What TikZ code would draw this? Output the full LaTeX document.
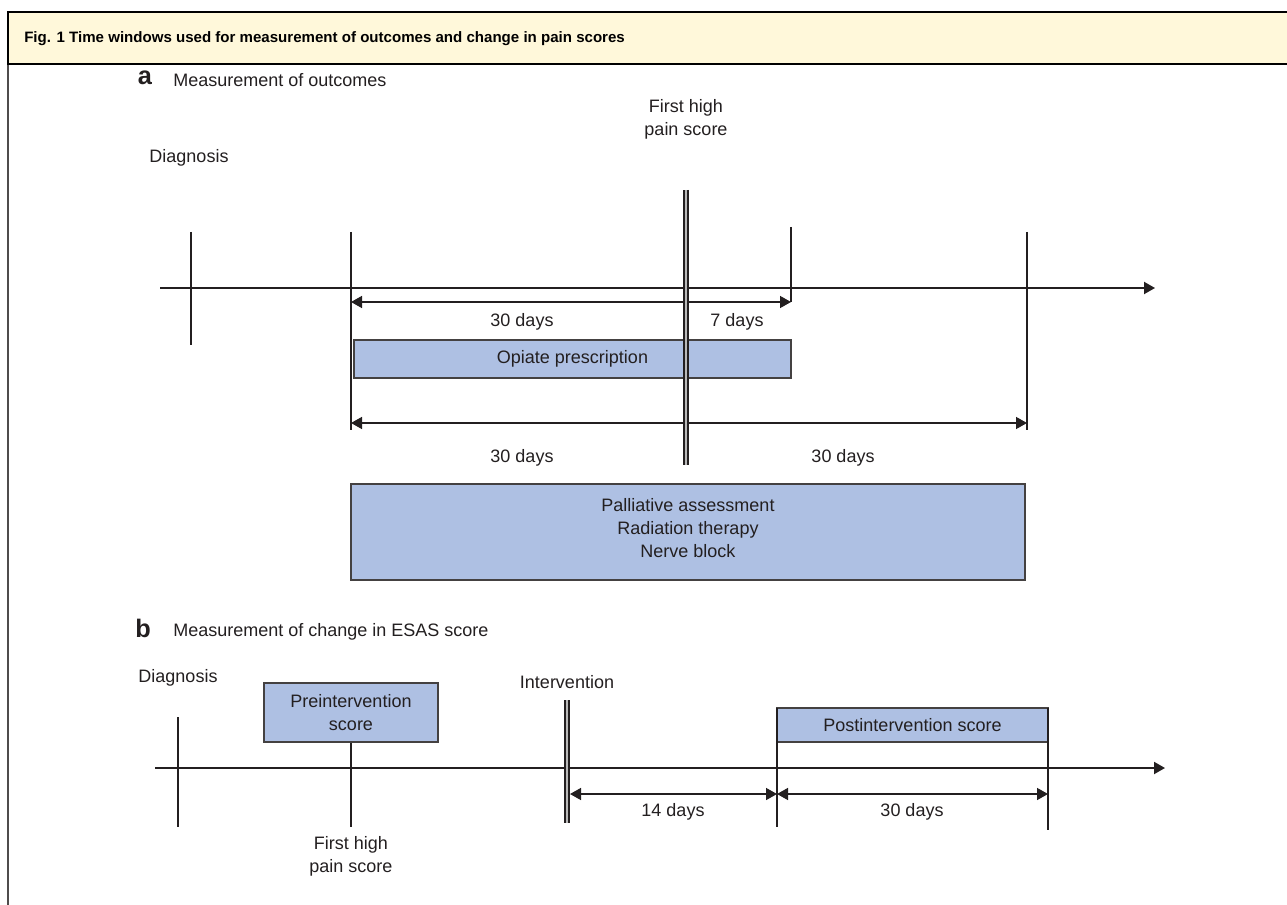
\documentclass[tikz,border=0pt]{standalone}
\usepackage{fontspec}
\setmainfont{Liberation Sans}
\usetikzlibrary{arrows.meta,fit}
\definecolor{boxblue}{HTML}{AEC0E3}
\definecolor{hdr}{HTML}{FFF8DA}
\definecolor{ink}{HTML}{231F20}
\begin{document}
\begin{tikzpicture}[x=0.75pt,y=-0.75pt,
  lbl/.style={font=\fontsize{13.5}{17.4}\selectfont, text=ink, inner sep=0pt, align=center},
  panel/.style={font=\bfseries\fontsize{19}{22}\selectfont, text=ink, inner sep=0pt},
  tickline/.style={draw=ink, line width=1pt},
  axisline/.style={draw=ink, line width=1.5pt, -{Triangle[length=8.25pt,width=9pt]}},
  dimline/.style={draw=ink, line width=1.1pt, {Triangle[length=8.25pt,width=9pt]}-{Triangle[length=8.25pt,width=9pt]}},
  bbox/.style={draw=ink!85, fill=boxblue, line width=1pt, inner sep=0pt},
  dbl/.style={draw=ink, line width=1pt, double=gray!55, double distance=1.8pt}
]
\useasboundingbox (0,0) rectangle (1287,905);
% frame and header
\draw[ink!80, line width=1.3pt] (8,12) -- (8,905);
\draw[fill=hdr, draw=black, line width=1.2pt] (8,12) rectangle (1300,64);
\node[font=\bfseries\fontsize{11.3}{14}\selectfont, text=black, anchor=west, inner sep=0pt] (title) at (24,39)
  {Fig. 1 Time windows used for measurement of outcomes and change in pain scores};

% ---------- panel a ----------
\node[panel] (pa) at (145,78) {a};
\node[lbl, anchor=west] (pat) at (173,80) {Measurement of outcomes};

\coordinate (ax0) at (160,288);
\coordinate (ax1) at (1155,288);
\draw[axisline] (ax0) -- (ax1);

\node[lbl] (diagA) at (189,158) {Diagnosis};
\coordinate (dA1) at (191,232); \coordinate (dA2) at (191,345);
\draw[tickline] (dA1) -- (dA2);

\coordinate (sA1) at (351,232); \coordinate (sA2) at (351,430);
\draw[tickline] (sA1) -- (sA2);

\node[lbl] (fhA) at (686,119) {First high\\pain score};
\coordinate (fA1) at (686,190); \coordinate (fA2) at (686,465);

\coordinate (sevA1) at (791,227); \coordinate (sevA2) at (791,302);
\draw[tickline] (sevA1) -- (sevA2);

\coordinate (eA1) at (1027,232); \coordinate (eA2) at (1027,430);
\draw[tickline] (eA1) -- (eA2);

\coordinate (r1a) at (351,302); \coordinate (r1b) at (791,302);
\draw[dimline] (r1a) -- (r1b);
\node[lbl] (d30a) at (522,322) {30 days};
\node[lbl] (d7a) at (737,322) {7 days};

\node[bbox, fit={(354,340) (791,378)}] (opiate) {};
\node[lbl] (opiatet) at (opiate.center) {Opiate prescription};

\coordinate (r2a) at (351,423); \coordinate (r2b) at (1027,423);
\draw[dimline] (r2a) -- (r2b);
\node[lbl] (d30b) at (522,458) {30 days};
\node[lbl] (d30c) at (843,458) {30 days};

\node[bbox, fit={(351,484) (1025,580)}] (pall) {};
\node[lbl] (pallt) at (688,528) {Palliative assessment\\Radiation therapy\\Nerve block};

\draw[dbl] (fA1) -- (fA2);

% ---------- panel b ----------
\node[panel] (pb) at (143,628) {b};
\node[lbl, anchor=west] (pbt) at (173,632) {Measurement of change in ESAS score};

\coordinate (bx0) at (155,768);
\coordinate (bx1) at (1165,768);
\draw[axisline] (bx0) -- (bx1);

\node[lbl] (diagB) at (178,678) {Diagnosis};
\coordinate (dB1) at (178,717); \coordinate (dB2) at (178,827);
\draw[tickline] (dB1) -- (dB2);

\node[bbox, fit={(264,683) (438,742)}] (pre) {};
\node[lbl] (pret) at (pre.center) {Preintervention\\score};
\coordinate (pB2) at (351,827);
\draw[tickline] (pre.south) -- (pB2);
\node[lbl] (fhB) at (351,856) {First high\\pain score};

\node[lbl] (intv) at (567,682) {Intervention};
\coordinate (iB1) at (567,700); \coordinate (iB2) at (567,823);
\draw[dbl] (iB1) -- (iB2);

\node[bbox, fit={(777,708) (1048,742)}] (post) {};
\node[lbl] (postt) at (post.center) {Postintervention score};
\coordinate (qB1) at (777,708); \coordinate (qB2) at (777,827);
\draw[tickline] (qB1) -- (qB2);
\coordinate (wB1) at (1048,708); \coordinate (wB2) at (1048,830);
\draw[tickline] (wB1) -- (wB2);

\coordinate (m1) at (570,794); \coordinate (m2) at (777,794); \coordinate (m3) at (1048,794);
\draw[dimline] (m1) -- (m2);
\draw[dimline] (m2) -- (m3);
\node[lbl] (d14) at (673,812) {14 days};
\node[lbl] (d30d) at (912,812) {30 days};
\end{tikzpicture}
\end{document}
